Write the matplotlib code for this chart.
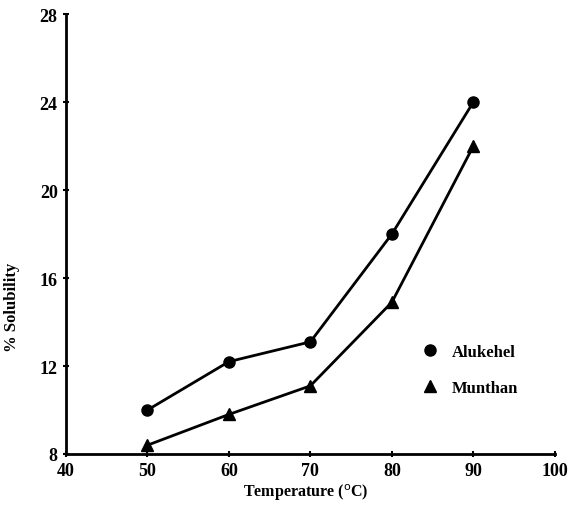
import matplotlib.pyplot as plt

# dados
temperatura = [50, 60, 70, 80, 90]
alukehel = [10.0, 12.2, 13.1, 18.0, 24.0]
munthan = [8.4, 9.8, 11.1, 14.9, 22.0]

x_ticks = [40, 50, 60, 70, 80, 90, 100]
y_ticks = [8, 12, 16, 20, 24, 28]

plt.rcParams['font.family'] = ['Liberation Serif', 'DejaVu Serif']

fig = plt.figure(figsize=(5.71, 5.06), dpi=100)
ax = fig.add_axes([0.1156, 0.1008, 0.856, 0.8692])

ax.plot(temperatura, alukehel, color='black', lw=2.0, marker='o', ms=8,
        label='Alukehel')
ax.plot(temperatura, munthan, color='black', lw=2.0, marker='^', ms=8,
        label='Munthan')

ax.set_xlim(40, 100)
ax.set_ylim(8, 28)
ax.set_xticks(x_ticks)
ax.set_yticks(y_ticks)
ax.tick_params(direction='inout', length=5, width=1.5, labelsize=13)
for lab in ax.get_xticklabels() + ax.get_yticklabels():
    lab.set_fontweight('bold')

for s in ['top', 'right']:
    ax.spines[s].set_visible(False)
for s in ['left', 'bottom']:
    ax.spines[s].set_linewidth(2.0)

ax.set_xlabel('Temperature ($^{\\rm o}$C)', fontsize=11.5, fontweight='bold',
              va='center')
ax.set_ylabel('% Solubility', fontsize=12, fontweight='bold')
ax.xaxis.set_label_coords(0.49, -0.085)
ax.yaxis.set_label_coords(-0.095, 0.336)

leg = ax.legend(loc='upper left', bbox_to_anchor=(0.7, 0.285), frameon=False,
                fontsize=12, handlelength=0.8, labelspacing=1.2,
                handletextpad=0.9)
for h in leg.legend_handles:
    h.set_linestyle('none')
for t in leg.get_texts():
    t.set_fontweight('bold')

fig.savefig('out.png', dpi=100)
